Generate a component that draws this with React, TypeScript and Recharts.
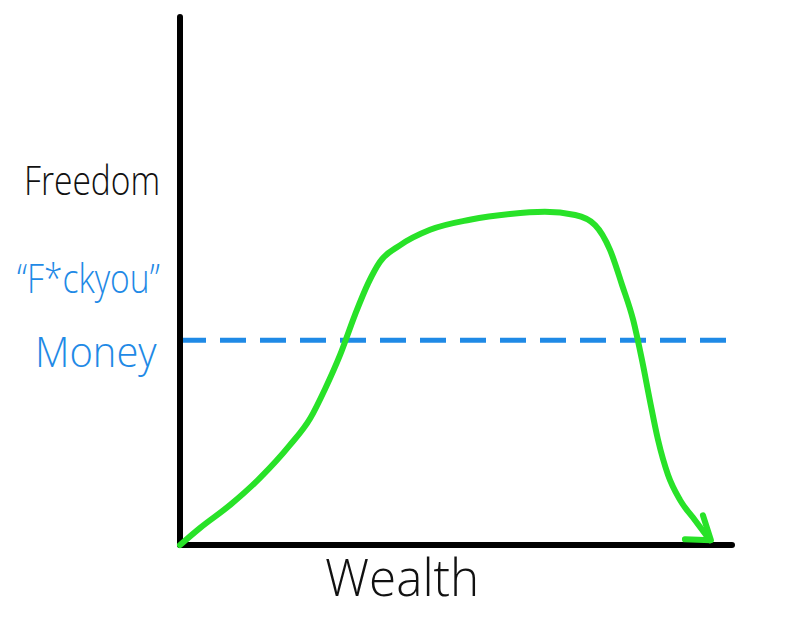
import { LineChart, Line, XAxis, YAxis, ReferenceLine } from "recharts";

// wealth (x) vs freedom (y), 0..100 on both axes
const wealth = [0, 3.6, 9.1, 14.5, 19.9, 23.6, 26.3, 29.0, 31.7, 34.1, 36.2, 39.9, 45.3, 52.5, 59.8, 66.1, 71.6, 75.2, 77.9, 80.1, 82.1, 83.7, 85.1, 86.6, 88.4, 90.6, 93.3, 96.0];
const freedom = [0, 3.2, 7.6, 12.7, 18.9, 24.0, 29.6, 36.0, 43.6, 49.6, 53.6, 56.8, 59.7, 61.6, 62.7, 63.1, 62.5, 60.6, 55.9, 49.2, 42.6, 35.0, 27.5, 19.9, 13.3, 8.5, 4.7, 0.9];
const moneyLevel = 38.8;

const data = wealth.map((w, i) => ({ wealth: w, freedom: freedom[i] }));

const GREEN = "#28e228";
const BLUE = "#1f8ae6";

// arrow head on the final point of the curve
// eslint-disable-next-line @typescript-eslint/no-explicit-any
const ArrowDot = (props: any) => {
  const { cx, cy, index } = props;
  if (index !== data.length - 1) return <g key={`d${index}`} />;
  return (
    <g key={`d${index}`}>
      <path
        d={`M${cx - 7},${cy - 25} L${cx + 1},${cy} L${cx - 25},${cy - 1}`}
        fill="none"
        stroke={GREEN}
        strokeWidth={6}
        strokeLinecap="round"
        strokeLinejoin="round"
      />
    </g>
  );
};

const label = (extra: React.CSSProperties): React.CSSProperties => ({
  position: "absolute",
  fontFamily: "'Open Sans', sans-serif",
  fontWeight: 300,
  lineHeight: 1,
  whiteSpace: "nowrap",
  transformOrigin: "left top",
  ...extra,
});

export default function App() {
  return (
    <div style={{ position: "absolute", left: 0, top: 0, width: 800, height: 622, background: "#fff" }}>
      <LineChart
        width={800}
        height={622}
        data={data}
        margin={{ top: 17, right: 68, left: 180, bottom: 77 }}
      >
        <XAxis type="number" dataKey="wealth" domain={[0, 100]} hide />
        <YAxis type="number" domain={[0, 100]} hide />
        <ReferenceLine
          y={moneyLevel}
          stroke={BLUE}
          strokeWidth={5}
          strokeDasharray="26 14"
        />
        <ReferenceLine
          segment={[{ x: 0, y: 0 }, { x: 0, y: 100 }]}
          stroke="#000"
          strokeWidth={6}
          strokeLinecap="round"
        />
        <ReferenceLine
          segment={[{ x: 0, y: 0 }, { x: 100, y: 0 }]}
          stroke="#000"
          strokeWidth={6}
          strokeLinecap="round"
        />
        <Line
          type="monotone"
          dataKey="freedom"
          stroke={GREEN}
          strokeWidth={6}
          strokeLinecap="round"
          dot={ArrowDot}
          activeDot={false}
          isAnimationActive={false}
        />
      </LineChart>
      <div style={label({ left: 24, top: 160, fontSize: 40, color: "#111", transform: "scaleX(0.84)" })}>Freedom</div>
      <div style={label({ left: 17, top: 258, fontSize: 40, color: BLUE, transform: "scaleX(0.84)" })}>“F*ckyou”</div>
      <div style={label({ left: 35, top: 330, fontSize: 42, color: BLUE, transform: "scaleX(0.95)" })}>Money</div>
      <div style={label({ left: 325, top: 550, fontSize: 52, color: "#111", transform: "scaleX(0.95)" })}>Wealth</div>
    </div>
  );
}
